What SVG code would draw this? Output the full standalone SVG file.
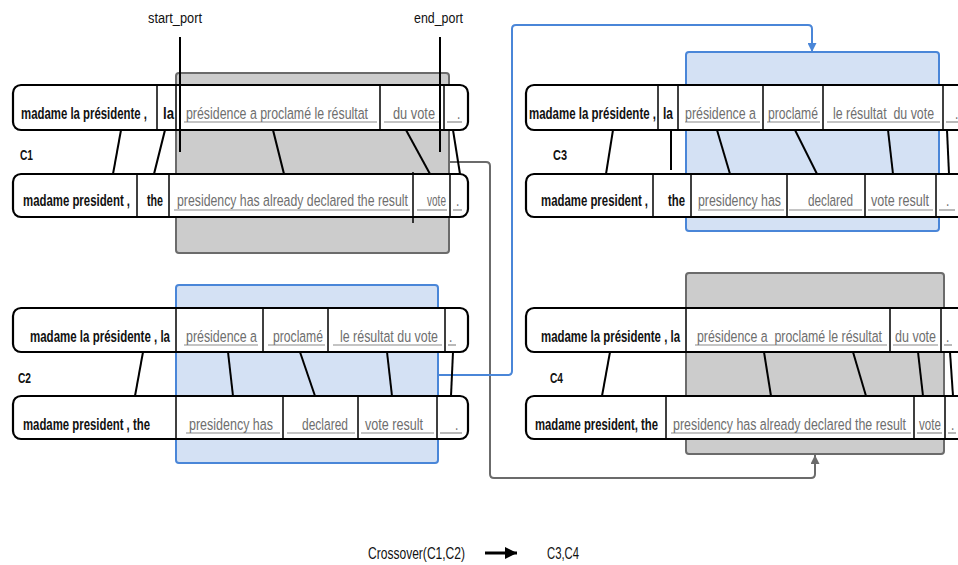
<svg xmlns="http://www.w3.org/2000/svg" width="958" height="565" viewBox="0 0 958 565">
<style>
.row{fill:#fff;stroke:#000;stroke-width:2.2}
.dv{stroke:#000;stroke-width:1.5}
.al{stroke:#000;stroke-width:2}
.ul{stroke:#8a8a8a;stroke-width:1.2}
.bt{font-family:"Liberation Sans",Arial,sans-serif;font-weight:bold;font-size:17px;fill:#111}
.gt{font-family:"Liberation Sans",Arial,sans-serif;font-size:17px;fill:#6e6e6e}
.lb{font-family:"Liberation Sans",Arial,sans-serif;font-weight:bold;font-size:15px;fill:#111}
.pt{font-family:"Liberation Sans",Arial,sans-serif;font-size:15px;fill:#111}
.cp{font-family:"Liberation Sans",Arial,sans-serif;font-size:17px;fill:#111}
.gbox{fill:#cccccc;stroke:#6b6b6b;stroke-width:2}
.bbox{fill:#d4e1f4;stroke:#4a86d8;stroke-width:2}
.gc{fill:none;stroke:#6b6b6b;stroke-width:2}
.bc{fill:none;stroke:#4a86d8;stroke-width:2}
</style>
<defs>
<marker id="ag" viewBox="0 0 10 10" refX="10" refY="5" markerWidth="9" markerHeight="9" markerUnits="userSpaceOnUse" orient="auto"><path d="M0,0 L10,5 L0,10 z" fill="#6b6b6b"/></marker>
<marker id="ab" viewBox="0 0 10 10" refX="10" refY="5" markerWidth="9" markerHeight="9" markerUnits="userSpaceOnUse" orient="auto"><path d="M0,0 L10,5 L0,10 z" fill="#4a86d8"/></marker>
<marker id="ak" viewBox="0 0 10 10" refX="10" refY="5" markerWidth="12" markerHeight="12" markerUnits="userSpaceOnUse" orient="auto"><path d="M0,0 L10,5 L0,10 z" fill="#000"/></marker>
</defs>

<g id="ports">
<text class="pt" transform="translate(148,23) scale(0.85,1)" textLength="63.5" lengthAdjust="spacingAndGlyphs">start_port</text>
<text class="pt" transform="translate(414,23) scale(0.85,1)" textLength="57.6" lengthAdjust="spacingAndGlyphs">end_port</text>
</g>

<g id="connectors">
<path class="gc" d="M449,162 H486 Q490,162 490,166 V474 Q490,478 494,478 H811 Q815,478 815,474 V455" marker-end="url(#ag)"/>
<path class="bc" d="M438,375 H508 Q512,375 512,371 V29 Q512,25 516,25 H808 Q812,25 812,29 V52" marker-end="url(#ab)"/>
</g>

<g id="C1">
<rect class="gbox" x="176" y="73" width="273" height="180" rx="3"/>
<rect class="row" x="13" y="85" width="455" height="45" rx="8"/>
<rect class="row" x="13" y="174" width="455" height="43" rx="8"/>
<g class="dv">
<line x1="157" y1="85" x2="157" y2="130"/><line x1="176" y1="85" x2="176" y2="130"/><line x1="380" y1="85" x2="380" y2="130"/><line x1="444" y1="85" x2="444" y2="130"/>
<line x1="137" y1="174" x2="137" y2="217"/><line x1="169" y1="174" x2="169" y2="217"/><line x1="413" y1="172" x2="413" y2="223"/><line x1="450" y1="174" x2="450" y2="217"/>
</g>
<g class="ul">
<line x1="184" y1="122" x2="377" y2="122"/><line x1="384" y1="122" x2="441" y2="122"/><line x1="447" y1="122" x2="462" y2="122"/>
<line x1="174" y1="210" x2="410" y2="210"/><line x1="417" y1="210" x2="447" y2="210"/><line x1="453" y1="210" x2="462" y2="210"/>
</g>
<g class="al">
<line x1="121" y1="130" x2="113" y2="174"/><line x1="165" y1="130" x2="154" y2="174"/><line x1="273" y1="130" x2="284" y2="174"/><line x1="406" y1="130" x2="430" y2="174"/><line x1="453" y1="130" x2="460" y2="174"/>
<line x1="180" y1="37" x2="180" y2="152"/><line x1="440" y1="37" x2="440" y2="152"/>
</g>
<text class="bt" transform="translate(21,119) scale(0.7,1)" textLength="180" lengthAdjust="spacingAndGlyphs">madame la présidente ,</text>
<text class="bt" transform="translate(163,119) scale(0.7,1)" textLength="15.7" lengthAdjust="spacingAndGlyphs">la</text>
<text class="gt" transform="translate(186,119) scale(0.7,1)" textLength="260" lengthAdjust="spacingAndGlyphs">présidence a proclamé le résultat</text>
<text class="gt" transform="translate(393,119) scale(0.7,1)" textLength="60" lengthAdjust="spacingAndGlyphs">du vote</text>
<text class="gt" transform="translate(457,119) scale(0.7,1)">.</text>
<text class="bt" transform="translate(23,206) scale(0.7,1)" textLength="152.9" lengthAdjust="spacingAndGlyphs">madame president ,</text>
<text class="bt" transform="translate(147,206) scale(0.7,1)" textLength="22.9" lengthAdjust="spacingAndGlyphs">the</text>
<text class="gt" transform="translate(177,206) scale(0.7,1)" textLength="330" lengthAdjust="spacingAndGlyphs">presidency has already declared the result</text>
<text class="gt" transform="translate(427,206) scale(0.7,1)" textLength="27.1" lengthAdjust="spacingAndGlyphs">vote</text>
<text class="gt" transform="translate(456,206) scale(0.7,1)">.</text>
<text class="lb" transform="translate(20,160) scale(0.7,1)" textLength="18.6" lengthAdjust="spacingAndGlyphs">C1</text>
</g>

<g id="C2">
<rect class="bbox" x="176" y="285" width="262" height="178" rx="3"/>
<rect class="row" x="13" y="308" width="455" height="44" rx="8"/>
<rect class="row" x="13" y="396" width="455" height="43" rx="8"/>
<g class="dv">
<line x1="176" y1="308" x2="176" y2="352"/><line x1="263" y1="308" x2="263" y2="352"/><line x1="328" y1="308" x2="328" y2="352"/><line x1="445" y1="308" x2="445" y2="352"/>
<line x1="176" y1="396" x2="176" y2="439"/><line x1="283" y1="396" x2="283" y2="439"/><line x1="358" y1="396" x2="358" y2="439"/><line x1="437" y1="396" x2="437" y2="439"/>
</g>
<g class="ul">
<line x1="184" y1="345" x2="258" y2="345"/><line x1="268" y1="345" x2="325" y2="345"/><line x1="333" y1="345" x2="442" y2="345"/><line x1="448" y1="345" x2="456" y2="345"/>
<line x1="186" y1="433" x2="280" y2="433"/><line x1="287" y1="433" x2="355" y2="433"/><line x1="361" y1="433" x2="434" y2="433"/><line x1="440" y1="433" x2="462" y2="433"/>
</g>
<g class="al">
<line x1="143" y1="352" x2="135" y2="396"/><line x1="228" y1="352" x2="233" y2="396"/><line x1="300" y1="352" x2="315" y2="396"/><line x1="387" y1="352" x2="392" y2="396"/><line x1="453" y1="352" x2="451" y2="396"/>
</g>
<text class="bt" transform="translate(30,342) scale(0.7,1)" textLength="200" lengthAdjust="spacingAndGlyphs">madame la présidente , la</text>
<text class="gt" transform="translate(186,342) scale(0.7,1)" textLength="101.4" lengthAdjust="spacingAndGlyphs">présidence a</text>
<text class="gt" transform="translate(273,342) scale(0.7,1)" textLength="71.4" lengthAdjust="spacingAndGlyphs">proclamé</text>
<text class="gt" transform="translate(340,342) scale(0.7,1)" textLength="140" lengthAdjust="spacingAndGlyphs">le résultat du vote</text>
<text class="gt" transform="translate(449,342) scale(0.7,1)">.</text>
<text class="bt" transform="translate(23,430) scale(0.7,1)" textLength="181.4" lengthAdjust="spacingAndGlyphs">madame president , the</text>
<text class="gt" transform="translate(189,430) scale(0.7,1)" textLength="120" lengthAdjust="spacingAndGlyphs">presidency has</text>
<text class="gt" transform="translate(302,430) scale(0.7,1)" textLength="65.7" lengthAdjust="spacingAndGlyphs">declared</text>
<text class="gt" transform="translate(365,430) scale(0.7,1)" textLength="82.9" lengthAdjust="spacingAndGlyphs">vote result</text>
<text class="gt" transform="translate(455,430) scale(0.7,1)">.</text>
<text class="lb" transform="translate(18,383) scale(0.7,1)" textLength="18.6" lengthAdjust="spacingAndGlyphs">C2</text>
</g>

<g id="C3">
<rect class="bbox" x="686" y="52" width="253" height="179" rx="3"/>
<rect class="row" x="526" y="85" width="440" height="45" rx="8"/>
<rect class="row" x="526" y="174" width="440" height="43" rx="8"/>
<g class="dv">
<line x1="658" y1="85" x2="658" y2="130"/><line x1="678" y1="85" x2="678" y2="130"/><line x1="763" y1="85" x2="763" y2="130"/><line x1="823" y1="85" x2="823" y2="130"/><line x1="943" y1="85" x2="943" y2="130"/>
<line x1="653" y1="174" x2="653" y2="217"/><line x1="691" y1="174" x2="691" y2="217"/><line x1="787" y1="174" x2="787" y2="217"/><line x1="865" y1="174" x2="865" y2="217"/><line x1="936" y1="174" x2="936" y2="217"/>
</g>
<g class="ul">
<line x1="685" y1="122" x2="760" y2="122"/><line x1="767" y1="122" x2="820" y2="122"/><line x1="827" y1="122" x2="940" y2="122"/><line x1="946" y1="122" x2="958" y2="122"/>
<line x1="698" y1="210" x2="784" y2="210"/><line x1="789" y1="210" x2="862" y2="210"/><line x1="868" y1="210" x2="933" y2="210"/><line x1="939" y1="210" x2="955" y2="210"/>
</g>
<g class="al">
<line x1="613" y1="130" x2="606" y2="174"/><line x1="671" y1="130" x2="671" y2="170"/><line x1="717" y1="130" x2="730" y2="174"/><line x1="795" y1="130" x2="817" y2="174"/><line x1="888" y1="130" x2="893" y2="174"/><line x1="947" y1="130" x2="949" y2="174"/>
</g>
<text class="bt" transform="translate(529,119) scale(0.7,1)" textLength="181.4" lengthAdjust="spacingAndGlyphs">madame la présidente ,</text>
<text class="bt" transform="translate(663,119) scale(0.7,1)" textLength="14.3" lengthAdjust="spacingAndGlyphs">la</text>
<text class="gt" transform="translate(685,119) scale(0.7,1)" textLength="101.4" lengthAdjust="spacingAndGlyphs">présidence a</text>
<text class="gt" transform="translate(768,119) scale(0.7,1)" textLength="71.4" lengthAdjust="spacingAndGlyphs">proclamé</text>
<text class="gt" transform="translate(833,119) scale(0.7,1)" textLength="144.3" lengthAdjust="spacingAndGlyphs" xml:space="preserve">le résultat  du vote</text>
<text class="gt" transform="translate(955,119) scale(0.7,1)">.</text>
<text class="bt" transform="translate(541,206) scale(0.7,1)" textLength="152.9" lengthAdjust="spacingAndGlyphs">madame president ,</text>
<text class="bt" transform="translate(668,206) scale(0.7,1)" textLength="24.3" lengthAdjust="spacingAndGlyphs">the</text>
<text class="gt" transform="translate(698,206) scale(0.7,1)" textLength="118.6" lengthAdjust="spacingAndGlyphs">presidency has</text>
<text class="gt" transform="translate(808,206) scale(0.7,1)" textLength="64.3" lengthAdjust="spacingAndGlyphs">declared</text>
<text class="gt" transform="translate(871,206) scale(0.7,1)" textLength="82.9" lengthAdjust="spacingAndGlyphs">vote result</text>
<text class="gt" transform="translate(946,206) scale(0.7,1)">.</text>
<text class="lb" transform="translate(553,160) scale(0.7,1)" textLength="20" lengthAdjust="spacingAndGlyphs">C3</text>
</g>

<g id="C4">
<rect class="gbox" x="686" y="273" width="258" height="181" rx="3"/>
<rect class="row" x="526" y="308" width="440" height="44" rx="8"/>
<rect class="row" x="526" y="396" width="440" height="43" rx="8"/>
<g class="dv">
<line x1="686" y1="308" x2="686" y2="352"/><line x1="890" y1="308" x2="890" y2="352"/><line x1="941" y1="308" x2="941" y2="352"/>
<line x1="666" y1="396" x2="666" y2="439"/><line x1="914" y1="396" x2="914" y2="439"/><line x1="945" y1="396" x2="945" y2="439"/>
</g>
<g class="ul">
<line x1="695" y1="345" x2="887" y2="345"/><line x1="893" y1="345" x2="938" y2="345"/><line x1="944" y1="345" x2="952" y2="345"/>
<line x1="671" y1="433" x2="911" y2="433"/><line x1="917" y1="433" x2="942" y2="433"/><line x1="948" y1="433" x2="956" y2="433"/>
</g>
<g class="al">
<line x1="610" y1="352" x2="602" y2="396"/><line x1="764" y1="352" x2="771" y2="396"/><line x1="853" y1="352" x2="866" y2="396"/><line x1="918" y1="352" x2="923" y2="396"/><line x1="950" y1="352" x2="953" y2="396"/>
</g>
<text class="bt" transform="translate(541,342) scale(0.7,1)" textLength="198.6" lengthAdjust="spacingAndGlyphs">madame la présidente , la</text>
<text class="gt" transform="translate(697,342) scale(0.7,1)" textLength="264.3" lengthAdjust="spacingAndGlyphs" xml:space="preserve">présidence a  proclamé le résultat</text>
<text class="gt" transform="translate(895,342) scale(0.7,1)" textLength="58.6" lengthAdjust="spacingAndGlyphs">du vote</text>
<text class="gt" transform="translate(946,342) scale(0.7,1)">.</text>
<text class="bt" transform="translate(535,430) scale(0.7,1)" textLength="175.7" lengthAdjust="spacingAndGlyphs">madame president, the</text>
<text class="gt" transform="translate(673,430) scale(0.7,1)" textLength="332.9" lengthAdjust="spacingAndGlyphs">presidency has already declared the result</text>
<text class="gt" transform="translate(919,430) scale(0.7,1)" textLength="31.4" lengthAdjust="spacingAndGlyphs">vote</text>
<text class="gt" transform="translate(951,430) scale(0.7,1)">.</text>
<text class="lb" transform="translate(550,383) scale(0.7,1)" textLength="18.6" lengthAdjust="spacingAndGlyphs">C4</text>
</g>

<g id="caption">
<text class="cp" transform="translate(368,559) scale(0.7,1)" textLength="138.6" lengthAdjust="spacingAndGlyphs">Crossover(C1,C2)</text>
<line x1="485" y1="553" x2="517" y2="553" stroke="#000" stroke-width="3" marker-end="url(#ak)"/>
<text class="cp" transform="translate(547,559) scale(0.7,1)" textLength="45.7" lengthAdjust="spacingAndGlyphs">C3,C4</text>
</g>
</svg>
